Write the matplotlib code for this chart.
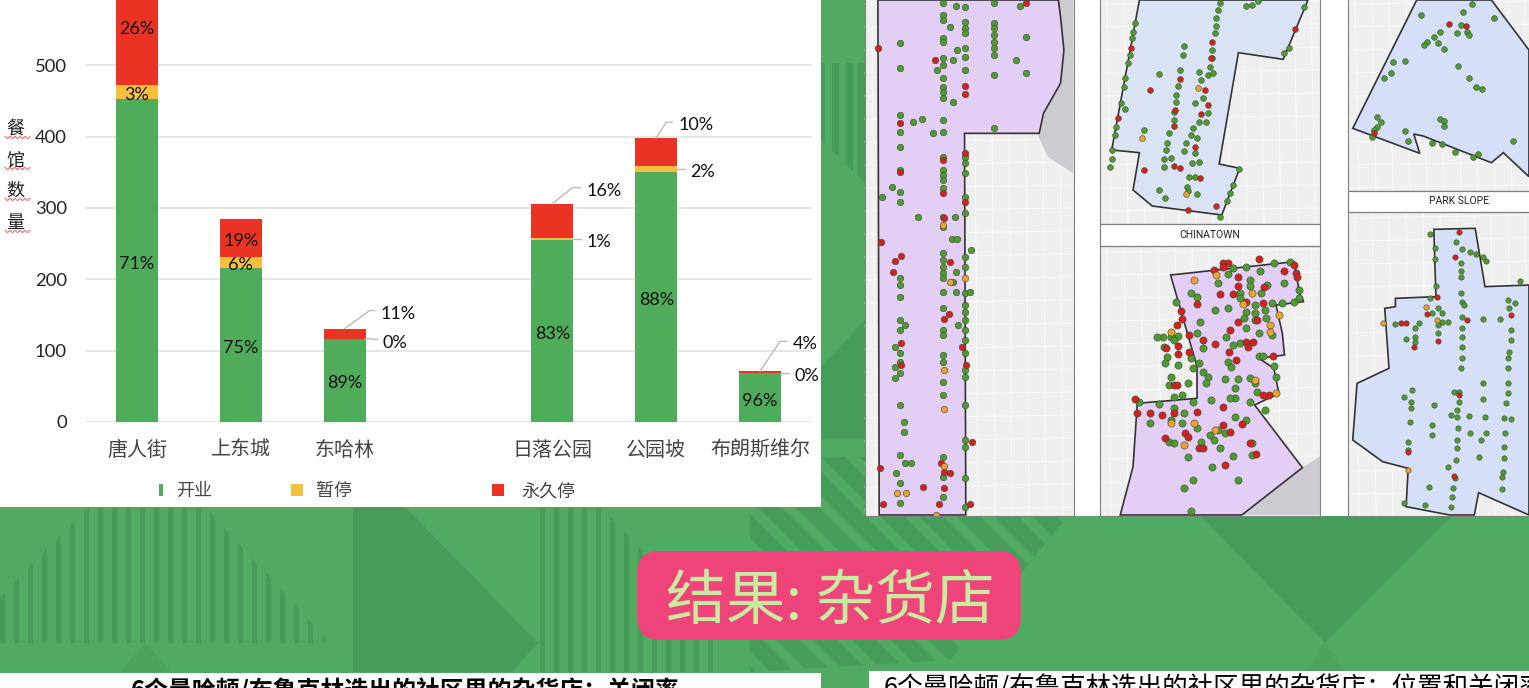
import numpy as np
import matplotlib
matplotlib.use('Agg')
import matplotlib.pyplot as plt
from matplotlib.patches import Polygon, Rectangle, FancyBboxPatch
from matplotlib.transforms import IdentityTransform

plt.rcParams['font.family'] = ['Noto Sans CJK SC', 'DejaVu Sans']

# bar chart data
hoods = ['唐人街', '上东城', '东哈林', '', '日落公园', '公园坡', '布朗斯维尔']
open_n = [453, 216, 117, 0, 255, 351, 68]
paused_n = [20, 16, 0, 0, 3, 8, 0]
closed_n = [166, 53, 14, 0, 48, 39, 3]
open_lbl = ['71%', '75%', '89%', '', '83%', '88%', '96%']
paused_lbl = ['3%', '6%', '0%', '', '1%', '2%', '0%']
closed_lbl = ['26%', '19%', '11%', '', '16%', '10%', '4%']
y_ticks = [0, 100, 200, 300, 400, 500, 600]
legend_names = ['开业', '暂停', '永久停']
ylabel_chars = ['餐', '馆', '数', '量']

# map outlines and shops, in crop coordinates of the map area
upper_poly = [(42, 0), (465, 0), (470, 50), (478, 150), (470, 250), (430, 340), (420, 400), (245, 400),
              (248, 1545), (45, 1545)]
china_poly = [(655, 0), (590, 450), (655, 458), (640, 570), (685, 618), (848, 645), (890, 505), (842, 492),
              (887, 158), (992, 178), (1050, 0)]
ues_poly = [(728, 825), (1018, 785), (1030, 880), (1040, 905), (975, 915), (990, 1000), (995, 1065), (935, 1075),
            (970, 1105), (982, 1180), (925, 1215), (1037, 1403), (895, 1545), (610, 1545), (640, 1400), (650, 1210),
            (790, 1195), (790, 1100)]
topr_poly = [(1305, 0), (1155, 385), (1312, 460), (1298, 402), (1320, 408), (1480, 488), (1508, 458), (1568, 530),
             (1568, 150), (1480, 0)]
slope_poly = [(1345, 688), (1442, 685), (1465, 860), (1568, 855), (1568, 1545), (1450, 1478), (1440, 1545), (1382, 1545),
              (1280, 1520), (1285, 1405), (1225, 1385), (1155, 1320), (1165, 1150), (1240, 1105), (1230, 925),
              (1255, 920), (1255, 895), (1350, 890)]

green_a = [(195, y) for y in [10, 45, 60, 115, 125, 175, 195, 235, 260, 275, 295, 360, 395, 470, 510, 525, 540, 565, 650,
                              680, 760, 780, 800, 820, 835, 875, 925, 990, 1005, 1065, 1085, 1145, 1185, 1370, 1430, 1490]]
green_a += [(245, y) for y in [20, 65, 85, 100, 145, 170, 210, 470, 490, 520, 590, 640, 770, 800, 880, 915, 935, 960, 990,
                               1020, 1060, 1110, 1130, 1215, 1320, 1340, 1435, 1520]]
green_a += [(315, y) for y in [10, 70, 85, 105, 125, 145, 165, 225, 385]]
green_a += [(93, y) for y in [130, 205, 345, 395, 440, 510, 575, 605, 835, 855, 890, 960, 990, 1060, 1085, 1120, 1215,
                              1365, 1450, 1510]]
green_a += [(75, 560), (52, 590), (135, 650), (222, 650), (215, 718), (228, 718), (260, 750), (105, 975), (82, 1040),
            (82, 1100), (82, 1135), (103, 1265), (103, 1295), (105, 1390), (120, 1390), (85, 1420), (230, 975),
            (258, 875), (225, 875), (225, 815), (218, 845), (125, 365), (145, 357), (172, 398), (212, 82), (228, 150),
            (218, 180), (180, 210), (218, 305), (375, 18), (225, 18), (365, 180), (390, 218), (388, 110)]
red_a = [(388, 10), (43, 145), (175, 180), (245, 258), (245, 282), (93, 370), (245, 460), (195, 480), (93, 515), (245, 605),
         (195, 580), (197, 655), (50, 725), (95, 768), (82, 783), (78, 815), (210, 785), (208, 942), (198, 958), (97, 1030),
         (240, 1040), (248, 1095), (97, 1095), (263, 1327), (190, 1388), (47, 1403), (198, 1415), (212, 1418), (148, 1460),
         (198, 1465), (55, 1512), (185, 1512), (258, 1513)]
orange_a = [(195, 675), (210, 845), (247, 835), (198, 1110), (198, 1228), (198, 1397), (87, 1480), (107, 1480), (178, 1545)]

green_b = [(645, 70), (640, 95), (638, 115), (632, 165), (628, 190), (622, 235), (618, 260), (612, 310), (622, 328), (600, 380),
           (598, 405), (590, 450), (590, 478), (585, 500), (845, 8), (840, 30), (835, 55), (835, 78), (832, 100), (826, 150),
           (825, 175), (820, 200), (815, 225), (828, 220), (800, 240), (795, 215), (785, 310), (805, 295), (815, 340), (795, 365),
           (812, 365), (780, 385), (775, 405), (790, 415), (785, 460), (795, 487), (778, 490), (765, 430), (760, 452), (725, 400),
           (720, 430), (718, 450), (730, 475), (712, 478), (712, 500), (735, 360), (735, 335), (745, 258), (750, 210), (700, 222),
           (760, 137), (758, 165), (740, 305), (665, 390), (740, 285), (772, 532), (785, 532), (767, 560), (768, 572), (790, 582),
           (702, 570), (715, 595), (860, 603), (868, 578), (875, 555), (888, 508), (845, 652), (1005, 145), (995, 160), (1040, 20),
           (932, 2), (918, 15), (905, 18)]
red_b = [(635, 145), (605, 355), (680, 270), (750, 238), (808, 270), (822, 175), (826, 125), (815, 315), (800, 342), (738, 330),
         (735, 378), (785, 440), (735, 498), (750, 503), (665, 510), (797, 534), (768, 630), (835, 617), (1020, 88)]
orange_b = [(660, 415), (793, 263), (765, 582)]

green_c = [(740, 905), (790, 890), (775, 880), (862, 822), (905, 800), (875, 805), (970, 790), (1008, 787), (938, 812), (993, 848),
           (838, 850), (955, 855), (890, 880), (890, 895), (915, 840), (915, 858), (940, 880), (1030, 870), (1030, 895), (1018, 905),
           (990, 908), (965, 910), (925, 915), (905, 935), (925, 940), (950, 930), (952, 955), (900, 955), (925, 960), (863, 925),
           (833, 930), (798, 965), (745, 1008), (790, 1000), (730, 1010), (710, 1012), (695, 1012), (735, 1020), (712, 1040), (720, 1070),
           (715, 1090), (745, 1095), (775, 1075), (795, 1090), (780, 1105), (805, 1115), (815, 1130), (812, 1150), (730, 1130), (725, 1155),
           (770, 1150), (755, 1185), (735, 1190), (805, 1045), (858, 1012), (890, 1030), (875, 1035), (935, 1000), (905, 985), (965, 1005),
           (935, 1068), (945, 1068), (862, 1085), (870, 1100), (885, 1137), (915, 1133), (855, 1137), (970, 1098), (975, 1130), (925, 1150),
           (930, 1175), (880, 1165), (880, 1195), (868, 1195), (915, 1205), (950, 1230), (822, 1200), (780, 1205), (655, 1205), (700, 1212),
           (735, 1225), (760, 1240), (680, 1270), (730, 1260), (755, 1270), (790, 1285), (820, 1305), (840, 1290), (855, 1300), (830, 1320),
           (800, 1325), (725, 1325), (735, 1330), (770, 1370), (845, 1345), (875, 1368), (825, 1400), (885, 1440), (780, 1440), (760, 1463),
           (775, 1533), (920, 1365), (905, 1260), (880, 1250), (920, 1328)]
red_c = [(850, 790), (862, 790), (935, 778), (852, 800), (1018, 795), (1022, 820), (1025, 832), (993, 812), (885, 830), (830, 810),
         (885, 858), (875, 882), (843, 882), (948, 860), (905, 905), (945, 910), (790, 912), (752, 932), (755, 958), (742, 975),
         (885, 965), (930, 960), (868, 990), (772, 1005), (805, 1020), (832, 1032), (905, 1025), (922, 1025), (910, 1040), (865, 1055),
         (772, 1055), (718, 1045), (745, 1038), (745, 1062), (882, 1080), (968, 1068), (735, 1155), (742, 1155), (958, 1185), (945, 1185),
         (645, 1197), (650, 1240), (680, 1240), (708, 1245), (735, 1240), (790, 1235), (852, 1222), (895, 1272), (852, 1275), (868, 1295),
         (762, 1298), (770, 1310), (715, 1315), (795, 1345), (805, 1345), (915, 1328), (928, 1362), (855, 1395)]
orange_c = [(783, 840), (835, 826), (920, 880), (897, 912), (982, 945), (960, 975), (962, 997), (730, 995), (925, 1140), (975, 1180),
            (730, 1270), (782, 1268), (832, 1290), (760, 1335)]

green_d = [(1435, 12), (1413, 37), (1315, 45), (1487, 55), (1408, 75), (1360, 95), (1345, 110), (1330, 125), (1322, 135), (1400, 100),
           (1422, 95), (1428, 105), (1355, 128), (1368, 148), (1250, 185), (1278, 182), (1402, 198), (1245, 218), (1228, 235), (1428, 235),
           (1445, 262), (1458, 266), (1212, 352), (1222, 365), (1212, 380), (1205, 390), (1360, 358), (1370, 362), (1368, 377), (1278, 393),
           (1200, 410), (1285, 422), (1340, 430), (1365, 433), (1395, 455), (1448, 462), (1438, 470), (1530, 423)]
red_d = [(1380, 73), (1420, 77), (1205, 398)]

green_e = [(1335, 703), (1398, 727), (1410, 747), (1430, 755), (1445, 762), (1460, 770), (1468, 783), (1348, 745), (1348, 778), (1408, 790),
           (1408, 812), (1408, 832), (1408, 878), (1410, 905), (1415, 915), (1412, 950), (1350, 858), (1548, 843), (1335, 895), (1355, 925),
           (1365, 940), (1340, 940), (1365, 965), (1378, 965), (1255, 972), (1310, 968), (1300, 985), (1300, 1010), (1300, 1025), (1280, 1017),
           (1355, 975), (1355, 1000), (1412, 985), (1412, 1010), (1410, 1040), (1410, 1075), (1408, 1105), (1460, 958), (1500, 957), (1520, 900),
           (1535, 908), (1522, 925), (1525, 990), (1525, 1020), (1522, 1055), (1520, 1075), (1520, 1105), (1518, 1150), (1518, 1180), (1515, 1210),
           (1510, 1255), (1525, 1258), (1512, 1300), (1510, 1340), (1510, 1375), (1508, 1415), (1506, 1430), (1505, 1467), (1405, 1175), (1405, 1205),
           (1392, 1175), (1385, 1245), (1400, 1250), (1428, 1248), (1402, 1285), (1400, 1320), (1400, 1345), (1398, 1380), (1395, 1435), (1460, 1150),
           (1460, 1197), (1345, 1215), (1293, 1170), (1275, 1190), (1292, 1205), (1292, 1225), (1290, 1265), (1285, 1325), (1340, 1275), (1340, 1305),
           (1430, 1300), (1468, 1300), (1455, 1320), (1452, 1370), (1465, 1250), (1390, 1465), (1388, 1490), (1385, 1520), (1333, 1462), (1325, 1515),
           (1275, 1510), (1285, 1350), (1400, 1230), (1378, 1400)]
red_e = [(1403, 697), (1395, 772), (1352, 890), (1330, 942), (1268, 970), (1280, 968), (1423, 960), (1298, 1040), (1355, 1023), (1525, 945),
         (1285, 1355), (1405, 1185), (1392, 1428)]
orange_e = [(1327, 920), (1352, 960), (1227, 970), (1284, 1410)]

GREEN, YELLOW, RED = '#4FAC5B', '#F6C03C', '#EB3323'
BG, DARK, MID = '#50AA61', '#469C58', '#4BA35C'


def crop(pts):
    # crop coordinates to figure pixels
    pts = np.array(pts, dtype=float)
    return np.column_stack([860 + pts[:, 0] / 2.344, pts[:, 1] / 3.0])


fig = plt.figure(figsize=(15.29, 6.88), dpi=100, facecolor=BG)

# full figure layer in pixels, for slide background and maps
bg = fig.add_axes([0, 0, 1, 1], zorder=0)
bg.set_xlim(0, 1529)
bg.set_ylim(688, 0)
bg.axis('off')

# darker slide shapes
bg.add_patch(Polygon([(353, 507), (405, 507), (538, 643), (512, 672), (353, 672)], fc=DARK, ec='none'))
bg.add_patch(Polygon([(1200, 515), (1453, 515), (1325, 643)], fc=DARK, ec='none'))
bg.add_patch(Polygon([(1325, 643), (1345, 672), (1305, 672)], fc=MID, ec='none'))
bg.add_patch(Polygon([(145, 643), (172, 672), (120, 672)], fc=MID, ec='none'))
bg.add_patch(Polygon([(821, 367), (865, 320), (865, 439), (821, 439)], fc=DARK, ec='none'))

# striped shapes
clip1 = Polygon([(88, 507), (205, 507), (330, 643), (0, 643), (0, 597)], transform=bg.transData)
clip2 = Polygon([(540, 507), (600, 507), (715, 625), (715, 672), (540, 672)], transform=bg.transData)
for clip, x0, x1 in [(clip1, 0, 335), (clip2, 540, 720)]:
    for x in np.arange(x0, x1, 14):
        r = bg.add_patch(Rectangle((x, 507), 5, 170, fc=DARK, ec='none'))
        r.set_clip_path(clip)
clip3 = Polygon([(750, 507), (1075, 507), (950, 660), (750, 672)], transform=bg.transData)
clip4 = Rectangle((821, 457), 44, 50, transform=bg.transData)
for clip in [clip3, clip4]:
    for x in np.arange(500, 1100, 38):
        p = bg.add_patch(Polygon([(x, 440), (x + 24, 440), (x + 264, 680), (x + 240, 680)], fc=DARK, ec='none'))
        p.set_clip_path(clip)
stripe_end = Polygon([(821, 63), (865, 63), (865, 183), (821, 140)], transform=bg.transData)
for x in [818, 832, 846, 858]:
    r = bg.add_patch(Rectangle((x, 63), 7, 125, fc=DARK, ec='none'))
    r.set_clip_path(stripe_end)

# white panels
bg.add_patch(Rectangle((0, 0), 821, 507, fc='white', ec='none'))
bg.add_patch(Rectangle((865, 0), 664, 515.5, fc='white', ec='none'))
bg.add_patch(Rectangle((0, 672.5), 821, 16, fc='white', ec='none'))
bg.add_patch(Rectangle((869, 671), 660, 17, fc='white', ec='none'))


def map_panel(x0, y0, x1, y1, poly, fill, green, red, orange=(), size=17, water=None):
    frame = Rectangle((x0, y0), x1 - x0, y1 - y0, fc='#EEEFEE', ec='none', zorder=1.1)
    bg.add_patch(frame)
    # street grid
    for x in np.arange(x0 + 7, x1, 17):
        bg.plot([x, x + 4], [y0, y1], color='#F9F9F9', lw=0.7, clip_path=frame, zorder=1.2)
    for y in np.arange(y0 + 6, y1, 23):
        bg.plot([x0, x1], [y, y - 3], color='#F9F9F9', lw=0.7, clip_path=frame, zorder=1.2)
    if water is not None:
        w = bg.add_patch(Polygon(crop(water), fc='#CBCBD0', ec='none', zorder=1.3))
        w.set_clip_path(frame)
    shape = bg.add_patch(Polygon(crop(poly), fc=fill, ec='#333333', lw=1.2, zorder=1.4))
    shape.set_clip_path(frame)
    for pts, col in [(green, '#4E9A33'), (red, '#D42020'), (orange, '#F0A030')]:
        if len(pts) == 0:
            continue
        xy = crop(pts)
        s = bg.scatter(xy[:, 0], xy[:, 1], s=size, c=col, edgecolors='#3A4A2A', linewidths=0.4, zorder=3)
        s.set_clip_path(frame)
    bg.add_patch(Rectangle((x0, y0), x1 - x0, y1 - y0, fc='none', ec='#808080', lw=0.8, zorder=4))


map_panel(865, -2, 1074, 515.5, upper_poly, '#E3CFF5', green_a, red_a, orange_a, size=22,
          water=[(465, 0), (500, 0), (500, 520), (440, 470), (415, 400)])
map_panel(1100, -2, 1320, 224, china_poly, '#DAE3F3', green_b, red_b, orange_b, size=17)
map_panel(1100, 246, 1320, 515.5, ues_poly, '#E3CFF5', green_c, red_c, orange_c, size=27,
          water=[(1037, 1403), (1078, 1370), (1078, 1545), (895, 1545)])
map_panel(1348, -2, 1530, 191, topr_poly, '#D5DFF7', green_d, red_d, size=17)
map_panel(1348, 212, 1530, 515.5, slope_poly, '#D5DFF7', green_e, red_e, orange_e, size=15)

bg.add_patch(Rectangle((1100, 224), 220, 22, fc='white', ec='#808080', lw=0.9, zorder=4))
bg.add_patch(Rectangle((1348, 191), 182, 21, fc='white', ec='#808080', lw=0.9, zorder=4))
bg.text(1209.5, 235, 'CHINATOWN', fontsize=7.5, color='#222222', ha='center', va='center', family=['Roboto', 'DejaVu Sans'], zorder=5)
bg.text(1459, 201, 'PARK SLOPE', fontsize=7.5, color='#222222', ha='center', va='center', family=['Roboto', 'DejaVu Sans'], zorder=5)

# title pill
bg.add_patch(FancyBboxPatch((637 + 23, 551 + 23), 384 - 46, 89 - 46, boxstyle='round,pad=23,rounding_size=23',
                            fc='#EE4479', ec='none', zorder=2))
bg.text(830, 602, '结果: 杂货店', fontsize=43, color='#C9EBA0', ha='center', va='center', zorder=3)

# clipped headings at the bottom edge
bg.text(405, 690, '6个曼哈顿/布鲁克林选出的社区里的杂货店：关闭率', fontsize=17.2, fontweight='bold',
        color='black', ha='center', va='center', zorder=3)
bg.text(884, 688.5, '6个曼哈顿/布鲁克林选出的社区里的杂货店：位置和关闭率', fontsize=18.4, color='black',
        ha='left', va='center', zorder=3)

# y label with red spell check squiggles
for ch, yy in zip(ylabel_chars, [127, 158, 189, 221]):
    bg.text(15, yy + 2, ch, fontsize=13, color='#222222', ha='center', va='center', zorder=3)
    xs = np.arange(5, 31, 2.5)
    bg.plot(xs, yy + 10.5 + np.where(np.arange(len(xs)) % 2, 1.2, -1.2), color='#F07070', lw=0.8, zorder=3)

# legend, spaced the way the slide has it
leg_mark = [(159, 484, 4, 12), (291, 484, 12, 12), (492, 484, 12, 12)]
leg_text = [176, 316, 521]
for name, col, (mx, my, mw, mh), tx in zip(legend_names, [GREEN, YELLOW, RED], leg_mark, leg_text):
    bg.add_patch(Rectangle((mx, my), mw, mh, fc=col, ec='none', zorder=2))
    bg.text(tx, 491, name, fontsize=13, color='#444444', ha='left', va='center', zorder=3)

# chart itself
ax = fig.add_axes([85 / 1529, (688 - 422) / 688, (812 - 85) / 1529, (422 + 6) / 688], zorder=2)
ax.patch.set_alpha(0)
pos = np.arange(len(hoods))
open_n = np.array(open_n)
paused_n = np.array(paused_n)
closed_n = np.array(closed_n)
w = 0.404
ax.bar(pos, open_n, w, color=GREEN, zorder=2)
ax.bar(pos, paused_n, w, bottom=open_n, color=YELLOW, zorder=2)
ax.bar(pos, closed_n, w, bottom=open_n + paused_n, color=RED, zorder=2)
ax.set_xlim(-0.5, 6.5)
ax.set_ylim(0, 600)
ax.set_xticks(pos)
ax.set_xticklabels(hoods, fontsize=14.4, color='#444444')
lato = ['Lato', 'DejaVu Sans']
ax.set_yticks(y_ticks)
ax.set_yticklabels([str(v) for v in y_ticks], family=lato, fontsize=13.3, color='#222222')
ax.tick_params(length=0)
ax.tick_params(axis='x', pad=13)
ax.tick_params(axis='y', pad=13)
ax.grid(axis='y', color='#E3E3E3', lw=1.3, zorder=1)
for s in ax.spines.values():
    s.set_visible(False)
ax.axhline(0, color='#E3E3E3', lw=1.5, zorder=1)

lab = dict(fontsize=13, family=lato, va='center_baseline', color='#111111', zorder=3)
for i in pos:
    if open_n[i] == 0:
        continue
    ax.annotate(open_lbl[i], (i, open_n[i] / 2), xytext=(0, -1.2), textcoords='offset points', ha='center', **lab)
    if closed_n[i] > 50:
        ax.annotate(paused_lbl[i], (i, open_n[i] + paused_n[i] / 2), xytext=(0, -1.2), textcoords='offset points', ha='center', **lab)
        ax.annotate(closed_lbl[i], (i, open_n[i] + paused_n[i] + closed_n[i] / 2), xytext=(0, -1.2), textcoords='offset points',
                    ha='center', **lab)

# small slices get a label on a leader line: pixel offsets per bar
top_leaders = {2: (25, -18, 5), 4: (20, -16, 8), 5: (10, -16, 6), 6: (20, -30, 7)}
side_leaders = {2: (12, 1), 4: (8, 0), 5: (8, 0), 6: (8, 0)}
trans = IdentityTransform()
for i, (dx, dy, run) in top_leaders.items():
    top = open_n[i] + paused_n[i] + closed_n[i]
    px, py = ax.transData.transform((i, top))
    ax.plot([px, px + dx, px + dx + run], [py, py - dy, py - dy], transform=trans, color='#BBBBBB', lw=1, zorder=3, clip_on=False)
    ax.text(px + dx + run + 6, py - dy - 1.5, closed_lbl[i], transform=trans, ha='left', clip_on=False, **lab)
for i, (run, dy) in side_leaders.items():
    edge = i + w / 2
    px, py = ax.transData.transform((edge, open_n[i] + paused_n[i] / 2))
    ax.plot([px, px + run], [py, py - dy], transform=trans, color='#BBBBBB', lw=1, zorder=3, clip_on=False)
    ax.text(px + run + 5, py - dy - 1.5, paused_lbl[i], transform=trans, ha='left', clip_on=False, **lab)

fig.savefig('out.png', dpi=100, facecolor=BG)
